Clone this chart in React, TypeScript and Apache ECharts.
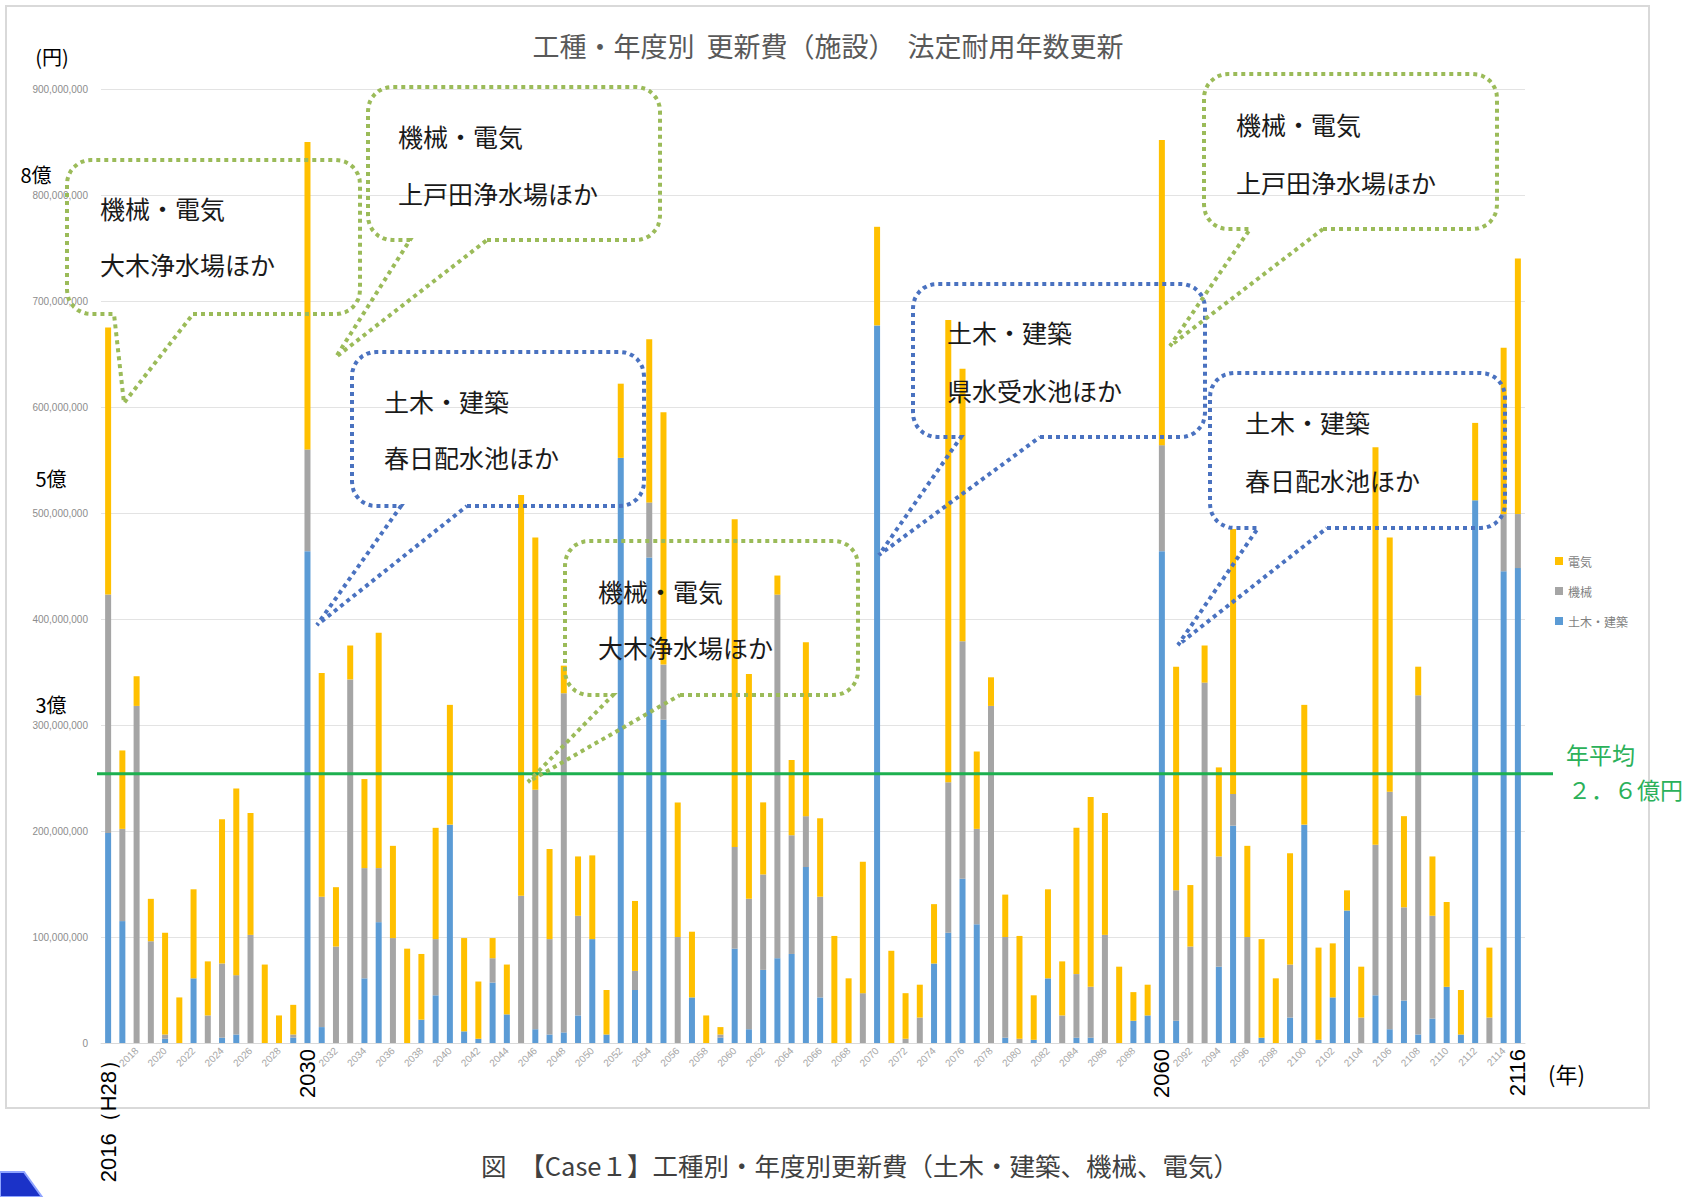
import React, { useEffect, useRef } from "react";
import * as echarts from "echarts";

// ---- data (百万円) ----
const FIRST_YEAR = 2016;
const YEARS: string[] = Array.from({ length: 100 }, (_, i) => String(FIRST_YEAR + i));

const CIVIL = [
  198, 115, 0, 0, 4, 0, 61, 0, 5, 8,
  0, 0, 0, 5, 464, 15, 0, 0, 61, 114,
  0, 0, 22, 45, 206, 11, 4, 57, 27, 0,
  13, 8, 10, 26, 98, 8, 552, 50, 458, 305,
  0, 43, 0, 5, 89, 13, 69, 80, 84, 166,
  43, 0, 0, 0, 677, 0, 0, 0, 75, 104,
  155, 112, 0, 5, 0, 3, 61, 0, 5, 5,
  0, 0, 21, 26, 464, 21, 0, 0, 72, 205,
  0, 5, 0, 24, 206, 3, 43, 125, 0, 45,
  13, 40, 8, 23, 53, 8, 512, 0, 445, 448,
];
const MECH = [
  225, 87, 318, 96, 4, 0, 0, 26, 70, 56,
  102, 0, 0, 3, 96, 123, 91, 343, 104, 51,
  99, 0, 0, 53, 0, 0, 0, 23, 0, 139,
  226, 90, 320, 94, 0, 0, 0, 18, 52, 52,
  100, 0, 0, 3, 96, 123, 90, 343, 112, 48,
  95, 0, 0, 47, 0, 0, 4, 24, 0, 142,
  224, 90, 318, 95, 4, 0, 0, 26, 60, 48,
  102, 0, 0, 0, 100, 123, 91, 340, 104, 30,
  100, 0, 0, 50, 0, 0, 0, 0, 24, 142,
  224, 88, 320, 97, 0, 0, 0, 24, 54, 51,
];
const ELEC = [
  252, 74, 28, 40, 96, 43, 84, 51, 136, 176,
  115, 74, 26, 28, 290, 211, 56, 32, 84, 222,
  87, 89, 62, 105, 113, 88, 54, 19, 47, 378,
  238, 85, 26, 56, 79, 42, 70, 66, 154, 238,
  127, 62, 26, 7, 309, 212, 68, 18, 71, 164,
  74, 101, 61, 124, 93, 87, 43, 31, 56, 436,
  257, 73, 27, 40, 97, 42, 84, 51, 138, 179,
  115, 72, 27, 29, 288, 211, 58, 35, 84, 250,
  86, 93, 61, 105, 113, 87, 51, 19, 48, 375,
  240, 86, 27, 56, 80, 42, 73, 66, 157, 241,
];
const AVERAGE = 254; // 百万円
const UNIT = 1000000;

const Y_TICKS_MAX = 900000000;
const Y_TICK_STEP = 100000000;

const OVERLAY_LABELS: Record<string, string> = {
  "2016": "2016（H28）",
  "2030": "2030",
  "2090": "2060",
  "2115": "2116",
};
const HIDDEN_SMALL = ["2016", "2030", "2090"];

const TITLE = "工種・年度別  更新費（施設）  法定耐用年数更新";
const CAPTION = "図　【Case１】工種別・年度別更新費（土木・建築、機械、電気）";

// ---- layout (coordinates measured on a 0.924-scaled view) ----
const S = 1.0825;
const d = (v: number) => Math.round(v * S);
const GREEN_DOT = "#9bbb59";
const BLUE_DOT = "#4a72c0";

type Callout = {
  color: string;
  rect: [number, number, number, number];
  base: [number, number];
  apex: [number, number];
  lines: [string, string];
  tx: number;
  ty: [number, number];
};

const CALLOUTS: Callout[] = [
  { color: GREEN_DOT, rect: [62, 148, 333, 290], base: [105, 178], apex: [115, 372], lines: ["機械・電気", "大木浄水場ほか"], tx: 92, ty: [192, 244] },
  { color: GREEN_DOT, rect: [340, 80, 610, 222], base: [379, 450], apex: [310, 330], lines: ["機械・電気", "上戸田浄水場ほか"], tx: 368, ty: [126, 178] },
  { color: BLUE_DOT, rect: [325, 325, 595, 467], base: [370, 431], apex: [293, 577], lines: ["土木・建築", "春日配水池ほか"], tx: 355, ty: [370, 422] },
  { color: GREEN_DOT, rect: [522, 500, 793, 642], base: [566, 628], apex: [488, 722], lines: ["機械・電気", "大木浄水場ほか"], tx: 552, ty: [546, 598] },
  { color: BLUE_DOT, rect: [843, 262, 1113, 404], base: [888, 961], apex: [812, 513], lines: ["土木・建築", "県水受水池ほか"], tx: 875, ty: [307, 360] },
  { color: GREEN_DOT, rect: [1112, 68, 1383, 212], base: [1155, 1222], apex: [1081, 320], lines: ["機械・電気", "上戸田浄水場ほか"], tx: 1142, ty: [115, 168] },
  { color: BLUE_DOT, rect: [1118, 345, 1390, 488], base: [1162, 1226], apex: [1088, 596], lines: ["土木・建築", "春日配水池ほか"], tx: 1150, ty: [390, 443] },
];

function arcPts(pts: number[][], cx: number, cy: number, r: number, a0: number, a1: number) {
  const n = 8;
  for (let i = 0; i <= n; i++) {
    const a = ((a0 + ((a1 - a0) * i) / n) * Math.PI) / 180;
    pts.push([cx + r * Math.cos(a), cy + r * Math.sin(a)]);
  }
}

function bubblePoints(c: Callout): number[][] {
  const [x1, y1, x2, y2] = c.rect.map(d);
  const r = d(22);
  const bx1 = d(c.base[0]);
  const bx2 = d(c.base[1]);
  const pts: number[][] = [];
  pts.push([bx2, y2]);
  arcPts(pts, x2 - r, y2 - r, r, 90, 0);
  arcPts(pts, x2 - r, y1 + r, r, 0, -90);
  arcPts(pts, x1 + r, y1 + r, r, -90, -180);
  arcPts(pts, x1 + r, y2 - r, r, 180, 90);
  pts.push([bx1, y2]);
  pts.push([d(c.apex[0]), d(c.apex[1])]);
  pts.push([bx2, y2]);
  return pts;
}

const JP = '"Noto Sans CJK JP", "Noto Sans", sans-serif';
const LAT = '"Liberation Sans", Arial, sans-serif';

function buildGraphics(yAvg: number): any[] {
  const g: any[] = [];
  g.push({
    type: "rect",
    z: -10,
    shape: { x: 6, y: 6, width: 1643, height: 1102 },
    style: { fill: "#ffffff", stroke: "#d9d9d9", lineWidth: 2 },
  });
  g.push({
    type: "text",
    z: 100,
    x: 828,
    y: 45,
    style: { text: TITLE, fontSize: 27, fontFamily: JP, fill: "#595959", align: "center", verticalAlign: "middle" },
  });
  const side: [string, number, number][] = [
    ["(円)", 52, 56],
    ["8億", 36, 174],
    ["5億", 51, 478],
    ["3億", 51, 704],
  ];
  side.forEach(([t, x, y]) =>
    g.push({
      type: "text",
      z: 100,
      x,
      y,
      style: { text: t, fontSize: 20, fontFamily: JP, fill: "#000", align: "center", verticalAlign: "middle" },
    })
  );
  g.push({
    type: "text",
    z: 100,
    x: 1548,
    y: 1073,
    style: { text: "(年)", fontSize: 22, fontFamily: JP, fill: "#000", align: "left", verticalAlign: "middle" },
  });
  // average line
  g.push({
    type: "line",
    z: 90,
    shape: { x1: 97, y1: yAvg, x2: 1553, y2: yAvg },
    style: { stroke: "#1db04f", lineWidth: 3 },
  });
  g.push({
    type: "text",
    z: 100,
    x: 1566,
    y: 754,
    style: { text: "年平均", fontSize: 23, fontFamily: JP, fill: "#2bb15a", align: "left", verticalAlign: "middle" },
  });
  g.push({
    type: "text",
    z: 100,
    x: 1568,
    y: 789,
    style: { text: "２．６億円", fontSize: 23, fontFamily: JP, fill: "#2bb15a", align: "left", verticalAlign: "middle" },
  });
  // callouts
  CALLOUTS.forEach((c) => {
    g.push({
      type: "polyline",
      z: 95,
      shape: { points: bubblePoints(c) },
      style: { stroke: c.color, lineWidth: 4, lineDash: [4, 4], fill: null },
    });
    c.lines.forEach((t, i) =>
      g.push({
        type: "text",
        z: 100,
        x: d(c.tx),
        y: d(c.ty[i]),
        style: { text: t, fontSize: 25, fontFamily: JP, fill: "#1a1a1a", align: "left", verticalAlign: "middle" },
      })
    );
  });
  // caption
  g.push({
    type: "text",
    z: 100,
    x: 860,
    y: 1164,
    style: { text: CAPTION, fontSize: 25.5, fontFamily: JP, fill: "#404040", align: "center", verticalAlign: "middle" },
  });
  // decoration bottom-left
  g.push({
    type: "polygon",
    z: 100,
    shape: { points: [[0, 1172], [24, 1172], [42, 1197], [0, 1197]] },
    style: { fill: "#1b32c8", stroke: "#8fa4ff", lineWidth: 2 },
  });
  return g;
}

export default function App() {
  const ref = useRef<HTMLDivElement>(null);
  useEffect(() => {
    if (!ref.current) return;
    const chart = echarts.init(ref.current, null, { renderer: "svg" });
    const option: any = {
      animation: false,
      backgroundColor: "#ffffff",
      grid: { left: 101, top: 89, width: 1424, height: 954, containLabel: false },
      legend: {
        orient: "vertical",
        left: 1550,
        top: 550,
        itemWidth: 8,
        itemHeight: 8,
        itemGap: 18,
        icon: "rect",
        data: ["電気", "機械", "土木・建築"],
        textStyle: { fontSize: 12, color: "#7f7f7f", fontFamily: JP },
      },
      xAxis: [
        {
          type: "category",
          data: YEARS,
          axisLine: { show: true, lineStyle: { color: "#d9d9d9" } },
          axisTick: { show: false },
          axisLabel: {
            interval: 1,
            rotate: 45,
            fontSize: 10,
            color: "#a6a6a6",
            margin: 6,
            fontFamily: LAT,
            formatter: (v: string) => (HIDDEN_SMALL.includes(v) ? "" : v),
          },
        },
        {
          type: "category",
          data: YEARS,
          position: "bottom",
          axisLine: { show: false },
          axisTick: { show: false },
          splitLine: { show: false },
          axisLabel: {
            interval: 0,
            rotate: 90,
            fontSize: 22,
            color: "#000000",
            margin: 6,
            fontFamily: LAT,
            formatter: (v: string) => OVERLAY_LABELS[v] || "",
          },
        },
      ],
      yAxis: {
        type: "value",
        min: 0,
        max: Y_TICKS_MAX,
        interval: Y_TICK_STEP,
        axisLine: { show: false },
        axisTick: { show: false },
        splitLine: { lineStyle: { color: "#e3e3e3", width: 1 } },
        axisLabel: {
          fontSize: 10,
          color: "#8c8c8c",
          margin: 13,
          fontFamily: LAT,
          formatter: (v: number) => v.toLocaleString("en-US"),
        },
      },
      series: [
        { name: "土木・建築", type: "bar", stack: "total", barWidth: 6, itemStyle: { color: "#5b9bd5" }, data: CIVIL.map((v) => v * UNIT) },
        { name: "機械", type: "bar", stack: "total", barWidth: 6, itemStyle: { color: "#a5a5a5" }, data: MECH.map((v) => v * UNIT) },
        { name: "電気", type: "bar", stack: "total", barWidth: 6, itemStyle: { color: "#ffc000" }, data: ELEC.map((v) => v * UNIT) },
      ],
    };
    chart.setOption(option);
    const yAvg = chart.convertToPixel({ yAxisIndex: 0 }, AVERAGE * UNIT) as number;
    chart.setOption({ graphic: buildGraphics(yAvg) });
    return () => chart.dispose();
  }, []);
  return (
    <div
      ref={ref}
      style={{ position: "absolute", left: 0, top: 0, width: 1694, height: 1197, background: "#fff" }}
    />
  );
}
